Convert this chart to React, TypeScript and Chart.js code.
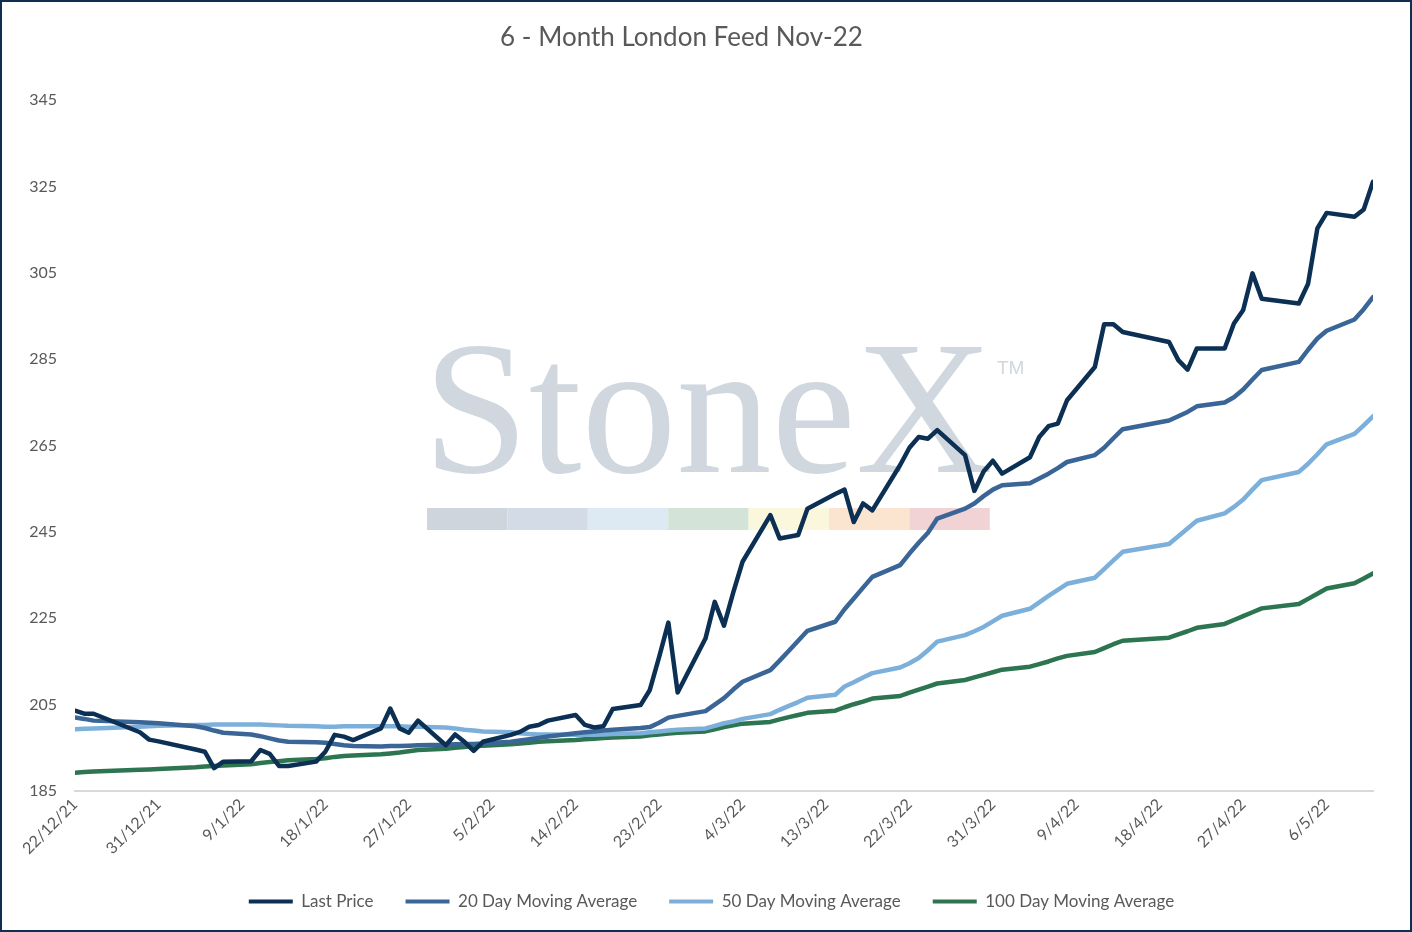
import { useEffect, useRef } from 'react';
import { Chart, registerables, type ChartConfiguration, type Plugin } from 'chart.js';

Chart.register(...registerables);

const TITLE = '6 - Month London Feed Nov-22';

// trading days shown on the chart (d/m/yy)
const tradeDates = [
  '22/12/21', '23/12/21', '24/12/21', '29/12/21', '30/12/21', '31/12/21',
  '4/1/22', '5/1/22', '6/1/22', '7/1/22',
  '10/1/22', '11/1/22', '12/1/22', '13/1/22', '14/1/22',
  '17/1/22', '18/1/22', '19/1/22', '20/1/22', '21/1/22',
  '24/1/22', '25/1/22', '26/1/22', '27/1/22', '28/1/22',
  '31/1/22', '1/2/22', '2/2/22', '3/2/22', '4/2/22',
  '7/2/22', '8/2/22', '9/2/22', '10/2/22', '11/2/22',
  '14/2/22', '15/2/22', '16/2/22', '17/2/22', '18/2/22',
  '21/2/22', '22/2/22', '23/2/22', '24/2/22', '25/2/22',
  '28/2/22', '1/3/22', '2/3/22', '3/3/22', '4/3/22',
  '7/3/22', '8/3/22', '9/3/22', '10/3/22', '11/3/22',
  '14/3/22', '15/3/22', '16/3/22', '17/3/22', '18/3/22',
  '21/3/22', '22/3/22', '23/3/22', '24/3/22', '25/3/22',
  '28/3/22', '29/3/22', '30/3/22', '31/3/22', '1/4/22',
  '4/4/22', '5/4/22', '6/4/22', '7/4/22', '8/4/22',
  '11/4/22', '12/4/22', '13/4/22', '14/4/22',
  '19/4/22', '20/4/22', '21/4/22', '22/4/22',
  '25/4/22', '26/4/22', '27/4/22', '28/4/22', '29/4/22',
  '3/5/22', '4/5/22', '5/5/22', '6/5/22',
  '9/5/22', '10/5/22', '11/5/22',
];

const lastPrice = [
  203.6, 202.9, 202.9, 198.6, 196.9, 196.5,
  194.6, 194.1, 190.3, 191.8,
  191.9, 194.5, 193.6, 190.8, 190.8,
  191.8, 194.1, 198, 197.6, 196.8,
  199.5, 204.1, 199.5, 198.5, 201.3,
  195.6, 198.1, 196.4, 194.3, 196.4,
  198, 198.7, 199.9, 200.3, 201.3,
  202.6, 200.3, 199.7, 200, 204,
  204.9, 208.4, 216, 224, 207.8,
  220.3, 228.8, 223.3, 231, 238.1,
  248.9, 243.5, 243.9, 244.3, 250.4,
  253.8, 254.8, 247.3, 251.6, 250,
  260.5, 264.5, 267, 266.6, 268.6,
  262.8, 254.5, 259, 261.5, 258.5,
  262.3, 267, 269.5, 270.1, 275.5,
  283.2, 293.1, 293.1, 291.3,
  289, 284.8, 282.6, 287.5,
  287.5, 293.3, 296.4, 304.9, 299,
  297.9, 302.5, 315.3, 318.9,
  318, 319.7, 326.1,
];

const ma20 = [
  202, 201.7, 201.3, 200.9, 200.8, 200.7,
  200, 199.6, 199, 198.5,
  198.1, 197.7, 197.2, 196.7, 196.4,
  196.3, 196.2, 195.9, 195.6, 195.4,
  195.3, 195.4, 195.4, 195.5, 195.6,
  195.7, 195.8, 195.9, 195.9, 196,
  196.4, 196.7, 197, 197.3, 197.6,
  198.4, 198.6, 198.8, 199, 199.2,
  199.6, 199.8, 200.8, 202, 202.4,
  203.5, 205, 206.5, 208.5, 210.3,
  213, 215.2, 217.5, 219.8, 222.1,
  224.2, 227.1, 229.6, 232.1, 234.6,
  237.3, 240, 242.5, 244.8, 248.1,
  250.4, 251.6, 253.3, 254.8, 255.8,
  256.3, 257.4, 258.5, 259.8, 261.2,
  262.8, 264.5, 266.7, 268.8,
  270.8, 271.8, 272.8, 274.1,
  275, 276.2, 278, 280.3, 282.5,
  284.4, 287.2, 289.8, 291.6,
  294.2, 296.6, 299.4,
];

const ma50 = [
  199.3, 199.4, 199.5, 199.9, 200, 200.1,
  200.3, 200.3, 200.4, 200.4,
  200.4, 200.4, 200.3, 200.2, 200.1,
  200, 199.9, 199.9, 200, 200,
  200, 200, 200, 199.9, 199.9,
  199.7, 199.5, 199.2, 199, 198.8,
  198.6, 198.4, 198.2, 198.1, 198.1,
  198, 198, 198, 198.1, 198.2,
  198.4, 198.6, 198.8, 199, 199.2,
  199.5, 200.1, 200.7, 201.1, 201.7,
  202.8, 203.8, 204.7, 205.6, 206.6,
  207.3, 209.2, 210.2, 211.3, 212.3,
  213.6, 214.6, 215.8, 217.6, 219.6,
  221.1, 222, 223, 224.3, 225.6,
  227.2, 228.7, 230.2, 231.6, 233,
  234.4, 236.4, 238.4, 240.4,
  242.2, 244, 245.8, 247.6,
  249.3, 250.8, 252.5, 254.8, 257,
  258.9, 260.8, 263, 265.3,
  267.7, 269.7, 271.8,
];

const ma100 = [
  189.2, 189.4, 189.5, 189.9, 190, 190.1,
  190.5, 190.7, 190.8, 190.9,
  191.2, 191.5, 191.7, 191.9, 192.1,
  192.4, 192.6, 192.9, 193.1, 193.2,
  193.5, 193.7, 193.9, 194.2, 194.5,
  194.8, 195, 195.2, 195.4, 195.5,
  195.8, 196, 196.2, 196.4, 196.5,
  196.8, 197, 197.1, 197.3, 197.4,
  197.6, 197.9, 198.1, 198.3, 198.5,
  198.8, 199.3, 199.8, 200.2, 200.6,
  201, 201.6, 202.1, 202.6, 203.1,
  203.6, 204.4, 205.1, 205.7, 206.4,
  207, 207.8, 208.5, 209.2, 209.9,
  210.7, 211.3, 211.9, 212.5, 213.1,
  213.8, 214.4, 215, 215.7, 216.3,
  217.2, 218.1, 219, 219.8,
  220.5, 221.3, 222, 222.8,
  223.7, 224.6, 225.5, 226.4, 227.3,
  228.3, 229.5, 230.7, 231.9,
  233.1, 234.2, 235.4,
];

const xTickDates = [
  '22/12/21', '31/12/21', '9/1/22', '18/1/22', '27/1/22', '5/2/22', '14/2/22', '23/2/22',
  '4/3/22', '13/3/22', '22/3/22', '31/3/22', '9/4/22', '18/4/22', '27/4/22', '6/5/22',
];
const yMin = 185;
const yMax = 345;
const yStep = 20;

const SERIES = [
  { label: 'Last Price', data: lastPrice, color: '#0c3053' },
  { label: '20 Day Moving Average', data: ma20, color: '#3a6597' },
  { label: '50 Day Moving Average', data: ma50, color: '#7cb0da' },
  { label: '100 Day Moving Average', data: ma100, color: '#2c7550' },
];

const WATERMARK_STRIP = ['#cfd5dc', '#d3dce6', '#dde9f3', '#d3e3d8', '#fbf7dd', '#fbe5d0', '#f2d3d5'];

const TEXT = '#595959';
const FONT = 'Lato, "Open Sans", sans-serif';

// day offset from the first date, so the x axis is a real calendar axis
const dayOf = (s: string) => {
  const [d, m, y] = s.split('/').map(Number);
  return (Date.UTC(2000 + y, m - 1, d) - Date.UTC(2021, 11, 22)) / 86400000;
};
const dayLabel = new Map(xTickDates.map(s => [dayOf(s), s]));

const watermark: Plugin<'line'> = {
  id: 'watermark',
  beforeDatasetsDraw(chart) {
    const { ctx } = chart;
    ctx.save();
    ctx.fillStyle = '#d0d7df';
    ctx.font = '190px "Liberation Serif", serif';
    ctx.textBaseline = 'alphabetic';
    ctx.fillText('StoneX', 421, 470);
    ctx.font = '19px "Liberation Sans", sans-serif';
    ctx.fillText('TM', 995, 372);
    const w = 80.4;
    WATERMARK_STRIP.forEach((c, i) => {
      ctx.fillStyle = c;
      ctx.fillRect(425 + i * w, 506, w, 22);
    });
    ctx.restore();
  },
};

// Excel places the title a bit left of centre and the legend a bit right of it
const nudge: Plugin<'line'> = {
  id: 'nudge',
  afterLayout(chart) {
    const title = (chart as any).titleBlock;
    if (title) {
      title.left -= 11;
      title.right -= 11;
    }
    const legend = chart.legend;
    if (legend) {
      legend.left += 19;
      legend.right += 19;
    }
  },
};

export default function App() {
  const canvasRef = useRef<HTMLCanvasElement>(null);

  useEffect(() => {
    const canvas = canvasRef.current;
    if (!canvas) return;

    const datasets = SERIES.map(({ label, data, color }) => ({
      label,
      data: tradeDates.map((d, i) => ({ x: dayOf(d), y: data[i] })),
      borderColor: color,
      backgroundColor: color,
      borderWidth: 4.5,
      pointRadius: 0,
      tension: 0,
      borderCapStyle: 'round' as const,
      borderJoinStyle: 'round' as const,
    }));

    const config: ChartConfiguration<'line'> = {
      type: 'line',
      data: { datasets },
      plugins: [watermark, nudge],
      options: {
        animation: false,
        responsive: true,
        maintainAspectRatio: false,
        layout: { padding: { left: 10, right: 37, top: 0, bottom: 10 } },
        plugins: {
          title: {
            display: true,
            text: TITLE,
            color: TEXT,
            font: { family: FONT, size: 26, weight: 'normal' },
            padding: { top: 20, bottom: 47 },
          },
          legend: {
            position: 'bottom',
            labels: {
              color: TEXT,
              font: { family: FONT, size: 17 },
              boxWidth: 44,
              boxHeight: 4,
              padding: 32,
              generateLabels: (chart) =>
                Chart.defaults.plugins.legend.labels.generateLabels(chart).map(l => ({ ...l, lineWidth: 0 })),
            },
          },
          tooltip: { enabled: false },
        },
        scales: {
          x: {
            type: 'linear',
            min: 0,
            max: dayOf(tradeDates[tradeDates.length - 1]),
            afterBuildTicks: (scale) => {
              scale.ticks = xTickDates.map(s => ({ value: dayOf(s) }));
            },
            afterFit: (scale) => {
              scale.height = 70;
            },
            grid: { display: false, drawTicks: false },
            border: { display: true, color: '#d9d9d9', width: 2 },
            ticks: {
              color: TEXT,
              font: { family: FONT, size: 16 },
              minRotation: 45,
              maxRotation: 45,
              autoSkip: false,
              padding: 4,
              callback: (v) => dayLabel.get(Number(v)) ?? '',
            },
          },
          y: {
            min: yMin,
            max: yMax,
            afterFit: (scale) => {
              scale.width = 63;
            },
            grid: { display: false, drawTicks: false },
            border: { display: false },
            ticks: {
              stepSize: yStep,
              color: TEXT,
              font: { family: FONT, size: 16 },
              padding: 18,
            },
          },
        },
      },
    };

    const chart = new Chart(canvas, config);
    return () => chart.destroy();
  }, []);

  return (
    <div
      style={{
        position: 'absolute',
        left: 0,
        top: 0,
        width: 1412,
        height: 932,
        border: '2px solid #0e2f50',
        boxSizing: 'border-box',
        background: '#fff',
      }}
    >
      <div style={{ position: 'relative', width: 1408, height: 928 }}>
        <canvas ref={canvasRef} />
      </div>
    </div>
  );
}
